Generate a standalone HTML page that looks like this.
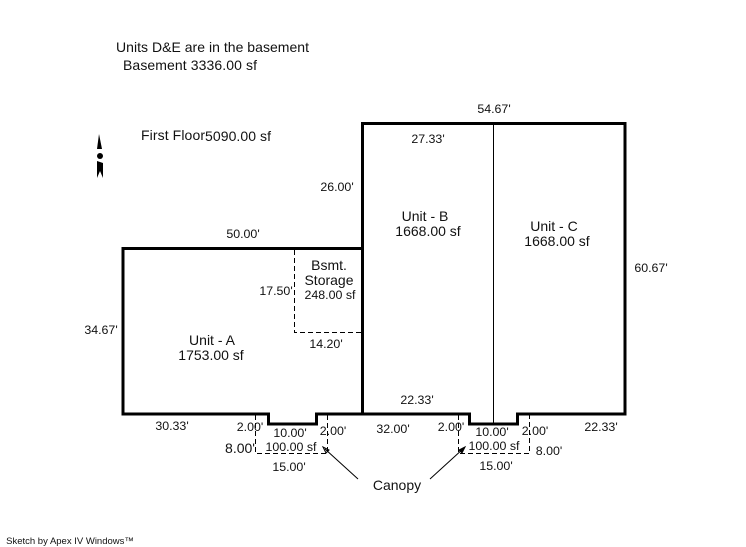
<!DOCTYPE html>
<html><head><meta charset="utf-8"><style>
html,body{margin:0;padding:0;background:#fff;width:746px;height:547px;overflow:hidden}
svg{display:block}
text{font-family:"Liberation Sans",sans-serif;fill:#111;text-anchor:middle;font-size:12.4px}
.b{font-size:14px}
.l{font-size:14px;text-anchor:start}
</style></head><body>
<svg width="746" height="547" viewBox="0 0 746 547" xmlns="http://www.w3.org/2000/svg">
<g fill="none" stroke="#000" stroke-width="3" stroke-linecap="square">
<path d="M362.500 123.500H625V414H517.500V424H469.500V414H316.500V424H268.500V414H123V248.500H362.500Z"/>
<path d="M362.500 248V414"/>
</g>
<path d="M493.500 124V424" stroke="#000" stroke-width="1" fill="none"/>
<g fill="none" stroke="#000" stroke-width="1" stroke-dasharray="5 3">
<path d="M294.500 250V332.500H361"/>
<path d="M255.500 415V453.500H327.500V415"/>
<path d="M458.500 415V453.500H529.500V415"/>
</g>
<g fill="none" stroke="#000" stroke-width="1">
<path d="M325 449L358 479"/><path d="M323 447l3 6 3-3z"/>
<path d="M430 479L464 448"/><path d="M465 447l-6 3 3 3z" fill="#000"/>
</g>
<g fill="#000">
<path d="M99 134L102 149H97Z"/><circle cx="100" cy="156" r="3"/><path d="M97 161L103 163L103 178L100 171L97 178Z"/>
</g>
<text class="l" x="116" y="52" textLength="193" lengthAdjust="spacing">Units D&amp;E are in the basement</text>
<text class="l" x="123" y="70" textLength="134" lengthAdjust="spacing">Basement 3336.00 sf</text>
<text class="l" x="141" y="140" textLength="64" lengthAdjust="spacing">First Floor</text>
<text class="l" x="205" y="141" textLength="66" lengthAdjust="spacing">5090.00 sf</text>
<text x="494" y="113">54.67'</text>
<text x="428" y="143">27.33'</text>
<text x="337" y="191">26.00'</text>
<text x="243" y="238">50.00'</text>
<text x="651" y="272">60.67'</text>
<text x="101" y="334">34.67'</text>
<text x="276" y="295">17.50'</text>
<text x="326" y="348">14.20'</text>
<text x="417" y="404">22.33'</text>
<text class="b" x="425" y="221">Unit - B</text>
<text class="b" x="428" y="236">1668.00 sf</text>
<text class="b" x="554" y="231">Unit - C</text>
<text class="b" x="557" y="246">1668.00 sf</text>
<text class="b" x="329" y="270">Bsmt.</text>
<text class="b" x="329" y="285">Storage</text>
<text x="330" y="299">248.00 sf</text>
<text class="b" x="212" y="345">Unit - A</text>
<text class="b" x="211" y="360">1753.00 sf</text>
<text x="172" y="430">30.33'</text>
<text x="250" y="431">2.00'</text>
<text x="290" y="437">10.00'</text>
<text x="333" y="435">2.00'</text>
<text x="393" y="433">32.00'</text>
<text x="451" y="431">2.00'</text>
<text x="492" y="436">10.00'</text>
<text x="535" y="435">2.00'</text>
<text x="601" y="431">22.33'</text>
<text class="b" x="240" y="453">8.00'</text>
<text x="291" y="451">100.00 sf</text>
<text x="494" y="450">100.00 sf</text>
<text x="549" y="455">8.00'</text>
<text x="289" y="471">15.00'</text>
<text x="496" y="470">15.00'</text>
<text class="b" x="397" y="490">Canopy</text>
<text x="70" y="544" style="font-size:9.5px">Sketch by Apex IV Windows™</text>
</svg>
</body></html>
